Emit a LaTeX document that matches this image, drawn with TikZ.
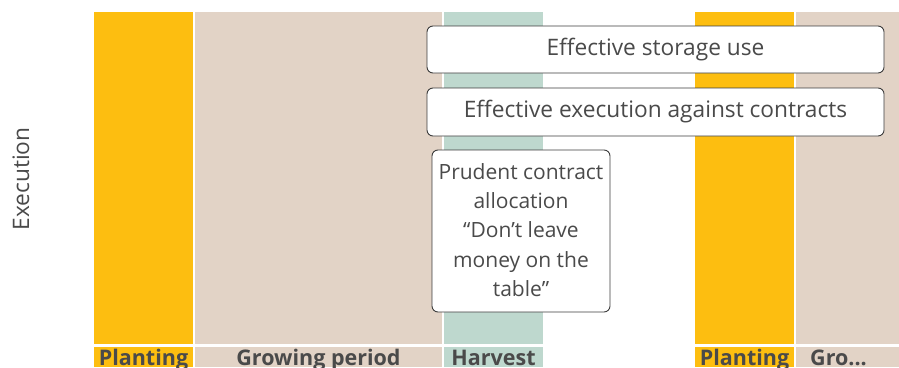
\documentclass[tikz,border=0pt]{standalone}
\usepackage{fontspec}
\setmainfont{Open Sans}
\definecolor{plantY}{RGB}{253,190,16}
\definecolor{growB}{RGB}{226,211,198}
\definecolor{harvG}{RGB}{190,216,206}
\definecolor{txt}{RGB}{74,74,74}
\definecolor{edge}{RGB}{60,60,60}
\begin{document}
\begin{tikzpicture}[x=1pt,y=-1pt,
  lbl/.style={font=\fontsize{21.5}{22}\selectfont\bfseries, text=txt, anchor=base, inner sep=0pt},
  card/.style={draw=edge, line width=0.9pt, fill=white, rounded corners=6pt},
  cardtxt/.style={font=\fontsize{22.7}{29.3}\selectfont, text=txt, align=center, inner sep=0pt},
  notetxt/.style={font=\fontsize{21}{29.3}\selectfont, text=txt, align=center, inner sep=0pt}]
\useasboundingbox (0,0) rectangle (899,367);
\clip (0,0) rectangle (899,367);
% bars
\fill[plantY] (94,12) rectangle (193,344);
\fill[growB] (195,12) rectangle (442,344);
\fill[harvG] (444,12) rectangle (543,344);
\fill[plantY] (695,12) rectangle (794,344);
\fill[growB] (796,12) rectangle (899,344);
% label bars
\fill[plantY] (94,347) rectangle (193,367);
\fill[growB] (195,347) rectangle (442,367);
\fill[harvG] (444,347) rectangle (543,367);
\fill[plantY] (695,347) rectangle (794,367);
\fill[growB] (796,347) rectangle (899,367);
\node[lbl] (l1) at (143.5,365) {Planting};
\node[lbl] (l2) at (318.5,365) {Growing period};
\node[lbl] (l3) at (493.5,365) {Harvest};
\node[lbl] (l4) at (744.5,365) {Planting};
\node[lbl, anchor=base west] (l5) at (810,365) {Gro...};
% axis label
\node[font=\fontsize{22.7}{24}\selectfont, text=txt, rotate=90, inner sep=0pt] (ex) at (21,179) {Execution};
% cards
\draw[card] (427,26) rectangle (884,73);
\node[cardtxt] (c1) at (655.5,49.5) {Effective storage use};
\draw[card] (427,88) rectangle (884,136);
\node[cardtxt] (c2) at (655.5,112) {Effective execution against contracts};
\draw[card] (432,150) rectangle (610,312);
\node[notetxt] (c3) at (521,230) {Prudent contract\\allocation\\“Don’t leave\\money on the\\table”};
\end{tikzpicture}
\end{document}
